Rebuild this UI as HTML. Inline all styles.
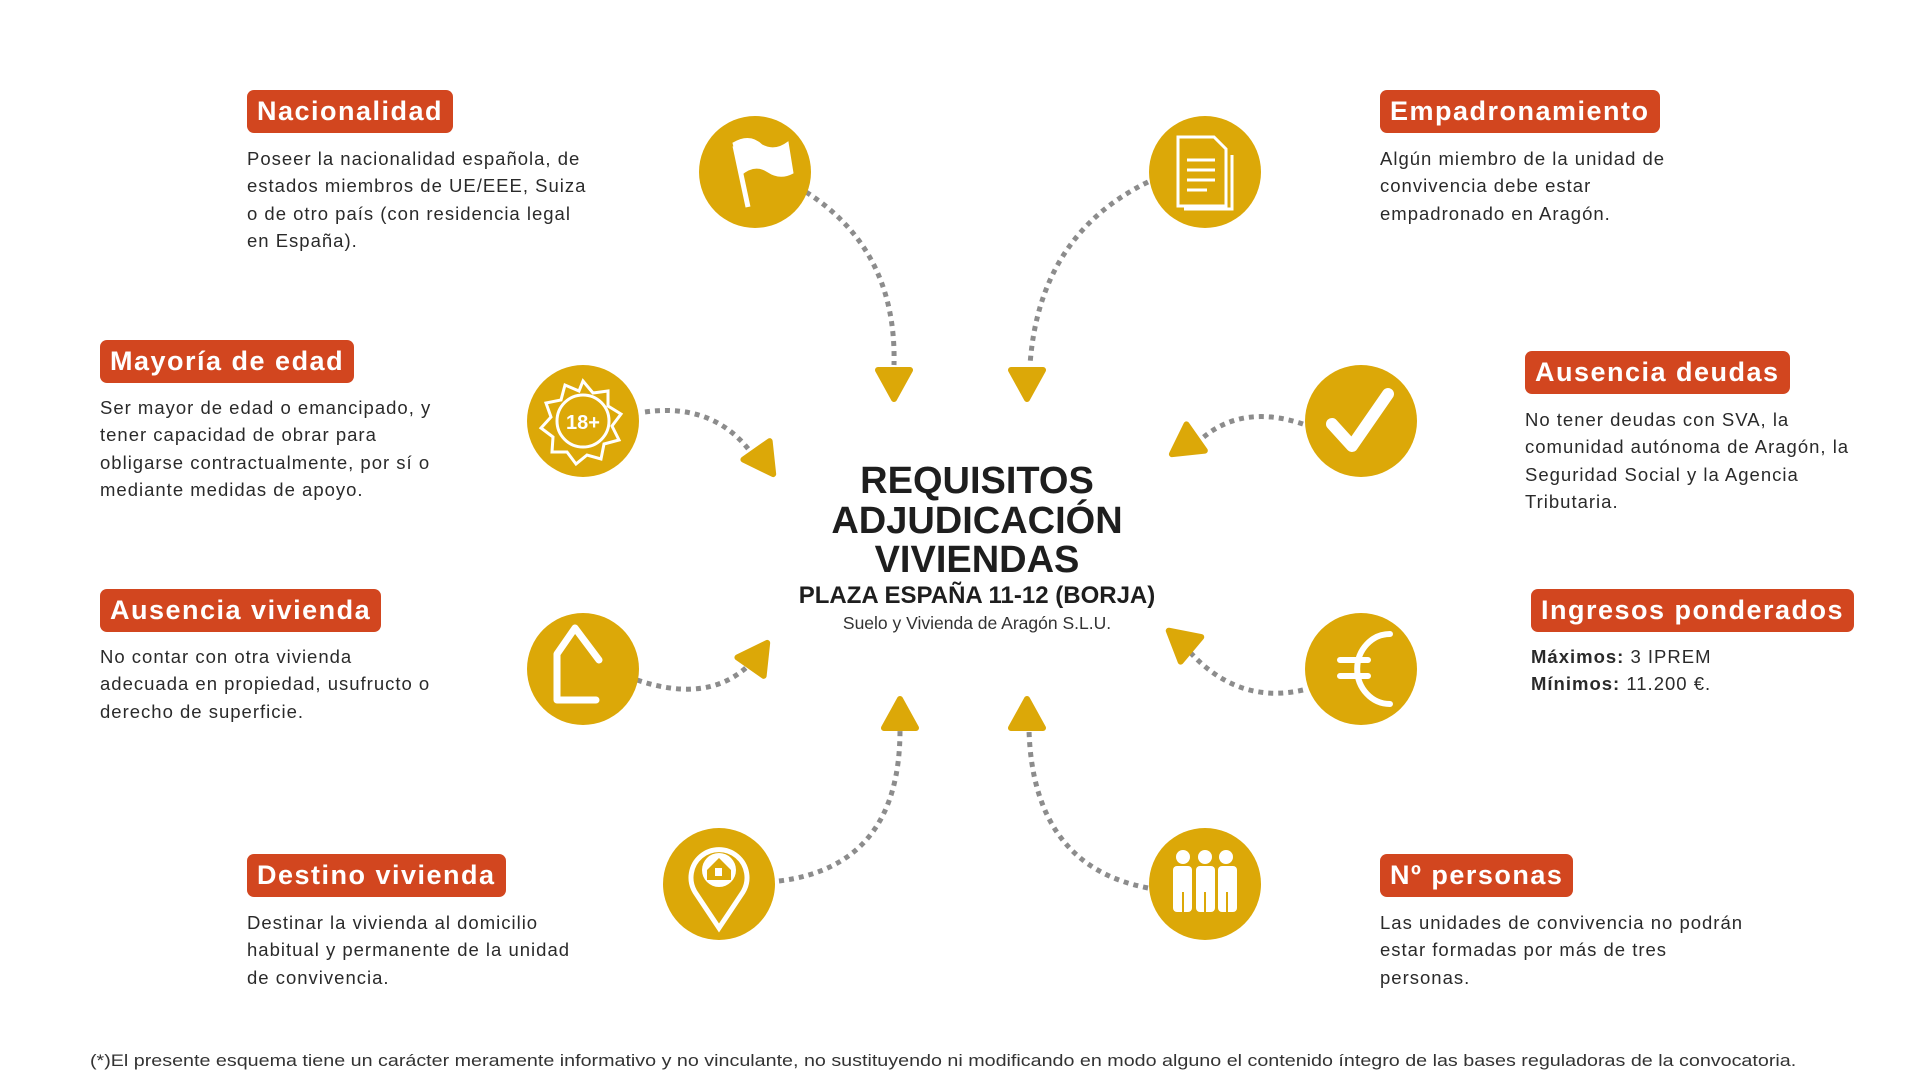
<!DOCTYPE html>
<html><head><meta charset="utf-8"><style>
body{margin:0;width:1920px;height:1080px;background:#fff;position:relative;overflow:hidden;font-family:"Liberation Sans",sans-serif;color:#222}
.lab{position:absolute;background:#d2461f;color:#fff;font-weight:bold;font-size:27px;letter-spacing:1.5px;border-radius:7px;height:43px;line-height:43px;padding:0 10px;box-sizing:border-box;white-space:nowrap}
.txt{position:absolute;font-size:18.5px;line-height:27.3px;color:#2a2a2a;letter-spacing:1px;white-space:nowrap}
.c{position:absolute;text-align:center;font-weight:bold;color:#1e1e1e;left:727px;width:500px}
</style></head><body>
<svg width="1920" height="1080" style="position:absolute;left:0;top:0">
<g fill="none" stroke="#8c8c8c" stroke-width="5" stroke-dasharray="5 5">
<path d="M806 192 Q897 250 894 365"/>
<path d="M1148 182 Q1039 235 1030 365"/>
<path d="M645 412 Q717 402 755 458"/>
<path d="M1303 424 Q1237 402 1195 445"/>
<path d="M637 680 Q711 705 752 662"/>
<path d="M1303 690 Q1237 705 1188 650"/>
<path d="M779 881 Q900 866 900 730"/>
<path d="M1148 888 Q1033 866 1029 730"/>
</g>
<g fill="#dca808" stroke="#dca808" stroke-width="6" stroke-linejoin="round">
<polygon points="16,0 -13,-16 -13,16" transform="translate(894,383) rotate(90)"/>
<polygon points="16,0 -13,-16 -13,16" transform="translate(1027,383) rotate(90)"/>
<polygon points="16,0 -13,-16 -13,16" transform="translate(764,461) rotate(55)"/>
<polygon points="16,0 -13,-16 -13,16" transform="translate(1185,445) rotate(145)"/>
<polygon points="16,0 -13,-16 -13,16" transform="translate(758,656) rotate(-55)"/>
<polygon points="16,0 -13,-16 -13,16" transform="translate(1181,641) rotate(-140)"/>
<polygon points="16,0 -13,-16 -13,16" transform="translate(900,715) rotate(-90)"/>
<polygon points="16,0 -13,-16 -13,16" transform="translate(1027,715) rotate(-90)"/>
</g>
<g fill="#dca808">
<circle cx="755" cy="172" r="56"/><circle cx="1205" cy="172" r="56"/>
<circle cx="583" cy="421" r="56"/><circle cx="1361" cy="421" r="56"/>
<circle cx="583" cy="669" r="56"/><circle cx="1361" cy="669" r="56"/>
<circle cx="719" cy="884" r="56"/><circle cx="1205" cy="884" r="56"/>
</g>
<g fill="#fff" stroke="#fff">
<path d="M735 146 L748 207" stroke-width="5" fill="none"/>
<path d="M733 143 Q750 133 762 145 Q775 152 788 142 L793 173 Q780 180 768 172 Q755 163 741 175 Z"/>
</g>
<g fill="none" stroke="#fff" stroke-width="3">
<path d="M1178 137 h36 l12 12 v57 h-48 z"/><path d="M1184 209 h48 v-54"/>
<path d="M1187 160 h28 M1187 170 h28 M1187 180 h28 M1187 190 h20"/>
</g>
<g fill="none" stroke="#fff" stroke-width="3">
<polygon points="583,381 593,393 608,391 608,406 621,414 612,426 619,440 604,444 601,459 587,455 576,464 567,452 552,452 553,437 541,428 551,417 546,403 561,400 565,385 579,391"/>
<circle cx="583" cy="421" r="26"/>
</g>
<text x="583" y="429" fill="#fff" font-family="Liberation Sans" font-weight="bold" font-size="20" text-anchor="middle">18+</text>
<path d="M1332 424 L1352 446 L1388 394" fill="none" stroke="#fff" stroke-width="12" stroke-linecap="round" stroke-linejoin="round"/>
<path d="M557 700 V654 L575 628 L599 660 M557 700 H596" fill="none" stroke="#fff" stroke-width="7" stroke-linecap="round" stroke-linejoin="round"/>
<g fill="none" stroke="#fff" stroke-width="6" stroke-linecap="round">
<path d="M1390 634 A30 32 0 1 0 1390 704"/><path d="M1340 660 h28 M1340 676 h28"/>
</g>
<path d="M719 928 L695 892 A28 28 0 1 1 743 892 Z" fill="none" stroke="#fff" stroke-width="5"/>
<circle cx="719" cy="870" r="17" fill="#fff"/>
<path d="M707 870 L719 858 L731 870 V880 H707 Z" fill="#dca808"/><rect x="715" y="868" width="7" height="8" fill="#fff"/>
<g fill="#fff">
<circle cx="1183" cy="857" r="7"/><circle cx="1205" cy="857" r="7"/><circle cx="1226" cy="857" r="7"/>
<rect x="1173" y="866" width="19" height="46" rx="4"/><rect x="1196" y="866" width="19" height="46" rx="4"/><rect x="1218" y="866" width="19" height="46" rx="4"/>
</g>
<g stroke="#dca808" stroke-width="2"><path d="M1193 866 v46 M1216 866 v46 M1183 892 v20 M1205 892 v20 M1227 892 v20"/></g>
</svg>

<div class="lab" style="left:247px;top:90px">Nacionalidad</div>
<div class="txt" style="left:247px;top:145px">Poseer la nacionalidad española, de<br>estados miembros de UE/EEE, Suiza<br>o de otro país (con residencia legal<br>en España).</div>
<div class="lab" style="left:1380px;top:90px">Empadronamiento</div>
<div class="txt" style="left:1380px;top:145px">Algún miembro de la unidad de<br>convivencia debe estar<br>empadronado en Aragón.</div>
<div class="lab" style="left:100px;top:340px">Mayoría de edad</div>
<div class="txt" style="left:100px;top:394px">Ser mayor de edad o emancipado, y<br>tener capacidad de obrar para<br>obligarse contractualmente, por sí o<br>mediante medidas de apoyo.</div>
<div class="lab" style="left:1525px;top:351px">Ausencia deudas</div>
<div class="txt" style="left:1525px;top:406px">No tener deudas con SVA, la<br>comunidad autónoma de Aragón, la<br>Seguridad Social y la Agencia<br>Tributaria.</div>
<div class="lab" style="left:100px;top:589px">Ausencia vivienda</div>
<div class="txt" style="left:100px;top:643px">No contar con otra vivienda<br>adecuada en propiedad, usufructo o<br>derecho de superficie.</div>
<div class="lab" style="left:1531px;top:589px">Ingresos ponderados</div>
<div class="txt" style="left:1531px;top:643px"><b>Máximos:</b> 3 IPREM<br><b>Mínimos:</b> 11.200 €.</div>
<div class="lab" style="left:247px;top:854px">Destino vivienda</div>
<div class="txt" style="left:247px;top:909px">Destinar la vivienda al domicilio<br>habitual y permanente de la unidad<br>de convivencia.</div>
<div class="lab" style="left:1380px;top:854px">Nº personas</div>
<div class="txt" style="left:1380px;top:909px">Las unidades de convivencia no podrán<br>estar formadas por más de tres<br>personas.</div>

<div class="c" style="top:462px;font-size:38px;line-height:39.5px">REQUISITOS<br>ADJUDICACIÓN<br>VIVIENDAS</div>
<div class="c" style="top:582px;font-size:24px;line-height:28px">PLAZA ESPAÑA 11-12 (BORJA)</div>
<div class="c" style="top:612px;font-size:17.5px;line-height:22px;font-weight:normal;color:#333">Suelo y Vivienda de Aragón S.L.U.</div>

<div style="position:absolute;left:90px;top:1052px;font-size:16.3px;color:#333;white-space:nowrap;transform:scaleX(1.21);transform-origin:0 0">(*)El presente esquema tiene un carácter meramente informativo y no vinculante, no sustituyendo ni modificando en modo alguno el contenido íntegro de las bases reguladoras de la convocatoria.</div>
</body></html>
